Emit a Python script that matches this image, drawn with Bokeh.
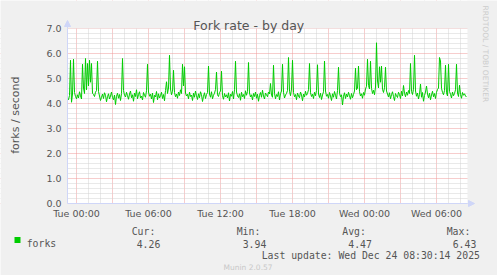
import pandas as pd
from math import pi
from bokeh.plotting import figure
from bokeh.models import (Range1d, FixedTicker, PrintfTickFormatter, Label, Arrow,
                          NormalHead, BoxAnnotation, ColumnDataSource)
from bokeh.embed import file_html
from bokeh.resources import INLINE

# ---------------- data ----------------
title = "Fork rate - by day"
y_label = "forks / second"
series_name = "forks"
start_time = "2025-12-22 23:15"
end_time = "2025-12-24 08:35"
step = "5min"

forks = [
    4.21, 4.15, 4.32, 5.73, 4.05, 4.38, 5.77, 4.44, 4.28, 4.19, 4.35, 4.22, 4.47, 4.31, 4.18, 5.57, 4.62, 4.40, 5.80, 4.55,
    5.60, 4.70, 5.73, 4.85, 5.60, 4.41, 4.36, 4.28, 4.45, 4.52, 5.69, 4.48, 4.30, 4.12, 4.25, 4.38, 4.20, 4.43, 4.33, 4.07,
    4.27, 4.39, 4.18, 4.30, 4.46, 4.24, 4.15, 4.34, 3.96, 4.29, 4.41, 4.21, 4.36, 4.12, 4.40, 5.80, 4.52, 4.33, 4.26, 4.45,
    4.31, 4.17, 4.38, 4.50, 4.23, 4.35, 4.09, 4.42, 4.28, 4.55, 4.19, 4.36, 4.47, 4.22, 4.30, 4.14, 4.44, 4.33, 4.25, 4.51,
    5.57, 4.46, 4.29, 4.37, 4.18, 4.42, 4.04, 4.33, 4.26, 4.48, 4.15, 4.39, 4.22, 4.31, 4.45, 4.20, 4.36, 4.11, 4.52, 4.87,
    4.40, 4.62, 5.93, 4.58, 4.35, 4.49, 5.33, 4.44, 4.27, 4.38, 4.21, 4.46, 4.32, 4.55, 4.40, 5.57, 4.70, 5.47, 4.42, 4.30,
    4.37, 4.19, 4.45, 4.28, 4.34, 4.12, 4.41, 4.25, 4.50, 4.31, 4.16, 4.39, 4.23, 4.47, 4.35, 4.08, 4.29, 4.43, 4.20, 4.36,
    4.44, 5.50, 4.38, 4.25, 4.47, 4.19, 4.33, 4.41, 4.56, 5.26, 4.35, 4.28, 4.44, 4.50, 5.29, 4.31, 4.17, 4.40, 4.26, 4.35,
    4.22, 4.43, 4.10, 4.37, 4.29, 4.48, 4.18, 4.55, 5.69, 4.46, 4.30, 4.24, 4.39, 4.13, 4.45, 4.27, 4.36, 4.20, 4.51, 4.33,
    4.48, 5.64, 4.42, 4.26, 4.35, 4.14, 4.40, 4.28, 4.46, 4.21, 4.37, 4.09, 4.32, 4.44, 4.25, 4.53, 4.30, 4.18, 4.42, 4.35,
    4.27, 4.46, 4.38, 4.80, 4.33, 4.25, 5.53, 4.41, 4.19, 4.36, 4.28, 4.47, 4.14, 4.39, 4.50, 5.57, 4.45, 4.22, 4.34, 4.40,
    4.52, 5.84, 4.49, 4.31, 4.58, 5.73, 4.44, 4.27, 4.36, 4.15, 4.42, 4.30, 4.23, 4.46, 4.34, 4.11, 4.38, 4.26, 4.49, 4.33,
    4.40, 4.55, 5.60, 4.43, 4.28, 4.37, 4.20, 4.45, 4.31, 4.52, 5.55, 4.38, 4.24, 4.41, 4.16, 4.34, 4.47, 5.70, 4.50, 4.29,
    4.36, 4.21, 4.44, 4.30, 4.12, 4.39, 4.25, 4.48, 4.33, 4.18, 4.52, 5.45, 4.41, 4.27, 4.35, 3.94, 4.29, 4.43, 4.20, 4.38,
    4.26, 4.45, 4.31, 4.17, 4.40, 4.23, 4.36, 4.50, 5.41, 4.55, 4.62, 5.50, 4.47, 4.30, 4.39, 4.21, 4.44, 4.33, 4.58, 4.69,
    5.77, 4.72, 4.58, 5.69, 4.61, 4.40, 4.53, 4.35, 4.66, 6.43, 4.90, 4.62, 5.47, 4.85, 5.50, 4.57, 4.44, 4.63, 5.45, 4.50,
    4.38, 4.26, 4.43, 4.19, 4.35, 4.47, 4.28, 4.12, 4.40, 4.31, 4.24, 4.45, 4.36, 4.20, 4.49, 4.30, 4.72, 4.41, 4.27, 4.46,
    4.33, 4.52, 4.40, 5.60, 4.48, 4.36, 4.57, 5.93, 4.50, 4.29, 4.42, 4.18, 4.37, 4.78, 4.25, 4.44, 4.09, 4.32, 4.46, 4.70,
    4.38, 4.23, 4.41, 4.15, 4.34, 4.49, 4.27, 4.40, 4.20, 4.45, 4.56, 4.62, 5.84, 5.70, 4.61, 4.44, 4.35, 4.52, 5.53, 4.43,
    4.30, 5.57, 4.48, 4.37, 4.22, 4.46, 4.31, 4.40, 4.55, 5.57, 4.42, 4.28, 4.73, 4.36, 4.21, 4.44, 4.33, 4.39, 4.30, 4.26,
]

y_min, y_max = 0, 7
y_ticks = [0, 1, 2, 3, 4, 5, 6, 7]
x_tick_times = ["2025-12-23 00:00", "2025-12-23 06:00", "2025-12-23 12:00",
                "2025-12-23 18:00", "2025-12-24 00:00", "2025-12-24 06:00"]
x_tick_labels = ["Tue 00:00", "Tue 06:00", "Tue 12:00", "Tue 18:00", "Wed 00:00", "Wed 06:00"]
stat_names = ["Cur:", "Min:", "Avg:", "Max:"]
stat_values = ["4.26", "3.94", "4.47", "6.43"]
last_update = "Last update: Wed Dec 24 08:30:14 2025"
footer = "Munin 2.0.57"
watermark = "RRDTOOL / TOBI OETIKER"

# ---------------- helpers ----------------
EPOCH = pd.Timestamp("1970-01-01")


def ms(t):
    return (pd.Timestamp(t) - EPOCH) / pd.Timedelta(milliseconds=1)


times = pd.date_range(start_time, periods=len(forks), freq=step)
src = ColumnDataSource(dict(t=times, v=forks))

W, H = 497, 275
FL, FT, FR, FB = 67, 28, 467, 203   # chart area edges (canvas px)

S, E = ms(start_time), ms(end_time)
kx = (E - S) / (FR - FL)              # ms per px
ky = (y_max - y_min) / (FB - FT)      # units per px
x_range = Range1d(S - FL * kx, E + (W - FR) * kx)
y_range = Range1d(y_min - (H - FB) * ky, y_max + FT * ky)

p = figure(width=W, height=H, x_axis_type="datetime", output_backend="svg",
           toolbar_location=None, title=None,
           min_border=0, min_border_left=0, min_border_right=0,
           min_border_top=0, min_border_bottom=0,
           x_range=x_range, y_range=y_range)
p.background_fill_color = "#FFFFFF"
p.border_fill_color = "#F0F0F0"
p.outline_line_color = None

# grids
tue0 = ms(x_tick_times[0])
hour = 3600 * 1000
grid_major_x = [tue0 + h * hour for h in range(0, 33, 3)]
grid_minor_x = [tue0 + h * hour for h in range(0, 33) if h % 3 != 0]
p.xgrid.ticker = FixedTicker(ticks=grid_major_x, minor_ticks=grid_minor_x)
p.ygrid.ticker = FixedTicker(ticks=y_ticks,
                             minor_ticks=[k / 5 for k in range(0, 36) if k % 5 != 0])
for g in (p.xgrid, p.ygrid):
    g.grid_line_color = "#EE9A9A"
    g.grid_line_dash = "1 1"
    g.grid_line_width = 1
    g.minor_grid_line_color = "#D2D2D2"
    g.minor_grid_line_dash = "1 1"
    g.minor_grid_line_width = 1

# grey surroundings outside the chart area (hide grid overflow)
for kw in (dict(bottom=y_max), dict(top=y_min), dict(right=S), dict(left=E)):
    p.add_layout(BoxAnnotation(fill_color="#F0F0F0", fill_alpha=1.0, line_color=None,
                               level="underlay", **kw))

# axes (placed at fixed data locations)
p.xaxis.fixed_location = y_min
p.yaxis.fixed_location = S
p.xaxis.bounds = (S, E)
p.yaxis.bounds = (y_min, y_max)
p.xaxis.ticker = FixedTicker(ticks=[ms(t) for t in x_tick_times], minor_ticks=[])
p.xaxis.major_label_overrides = {ms(t): lab for t, lab in zip(x_tick_times, x_tick_labels)}
p.yaxis.ticker = FixedTicker(ticks=y_ticks, minor_ticks=[])
p.yaxis.formatter = PrintfTickFormatter(format="%.1f")
for ax in (p.xaxis, p.yaxis):
    ax.axis_line_color = "#CFD6F8"
    ax.axis_line_width = 1
    ax.major_tick_line_color = None
    ax.minor_tick_line_color = None
    ax.major_tick_in = 0
    ax.major_tick_out = 0
    ax.major_label_text_font = "DejaVu Sans"
    ax.major_label_text_font_size = "9.5px"
    ax.major_label_text_color = "#555555"
p.yaxis.major_label_standoff = 6
p.xaxis.major_label_standoff = 4

# data line
p.line("t", "v", source=src, line_color="#00CC00", line_width=1)

# axis arrows
arrow_col = "#CFD6F8"
p.add_layout(Arrow(end=NormalHead(size=6, fill_color=arrow_col, line_color=arrow_col),
                   x_start=FL, y_start=H - FT, x_end=FL, y_end=H - 20,
                   start_units="screen", end_units="screen",
                   line_color=arrow_col, line_width=1))
p.add_layout(Arrow(end=NormalHead(size=6, fill_color=arrow_col, line_color=arrow_col),
                   x_start=FR, y_start=H - FB, x_end=474, y_end=H - FB,
                   start_units="screen", end_units="screen",
                   line_color=arrow_col, line_width=1))


def put(text, X, Y, size, font="DejaVu Sans", color="#555555",
        align="left", baseline="alphabetic", angle=0.0):
    p.add_layout(Label(x=X, y=H - Y, x_units="screen", y_units="screen",
                       text=text, text_font=font, text_font_size=size,
                       text_color=color, text_align=align, text_baseline=baseline,
                       angle=angle))


MONO = "DejaVu Sans Mono"
put(title, 248.3, 24.5, "12.5px", align="center")
put(y_label, 15, 114.7, "11px", align="center", angle=pi / 2)
put(watermark, 485, 5, "7.5px", color="#CCCCCC", angle=-pi / 2)

# legend
p.add_layout(BoxAnnotation(left=14, right=20, top=H - 236.5, bottom=H - 242.5,
                           left_units="screen", right_units="screen",
                           top_units="screen", bottom_units="screen",
                           fill_color="#00CC00", fill_alpha=1.0, line_color=None))
put(series_name, 26.2, 243, "9.8px", font=MONO)
name_x = [131.2, 236.2, 341.8, 446.2]
val_x = [136.2, 242.2, 347.8, 452.2]
for n, vx, nx, v in zip(stat_names, val_x, name_x, stat_values):
    put(n, nx, 231.3, "9.8px", font=MONO)
    put(v, vx, 243, "9.8px", font=MONO)
put(last_update, 261.2, 255.2, "9.8px", font=MONO)
put(footer, 223, 266.7, "7.5px", color="#C8C8C8")

open("out.html", "w").write(file_html(p, INLINE))
